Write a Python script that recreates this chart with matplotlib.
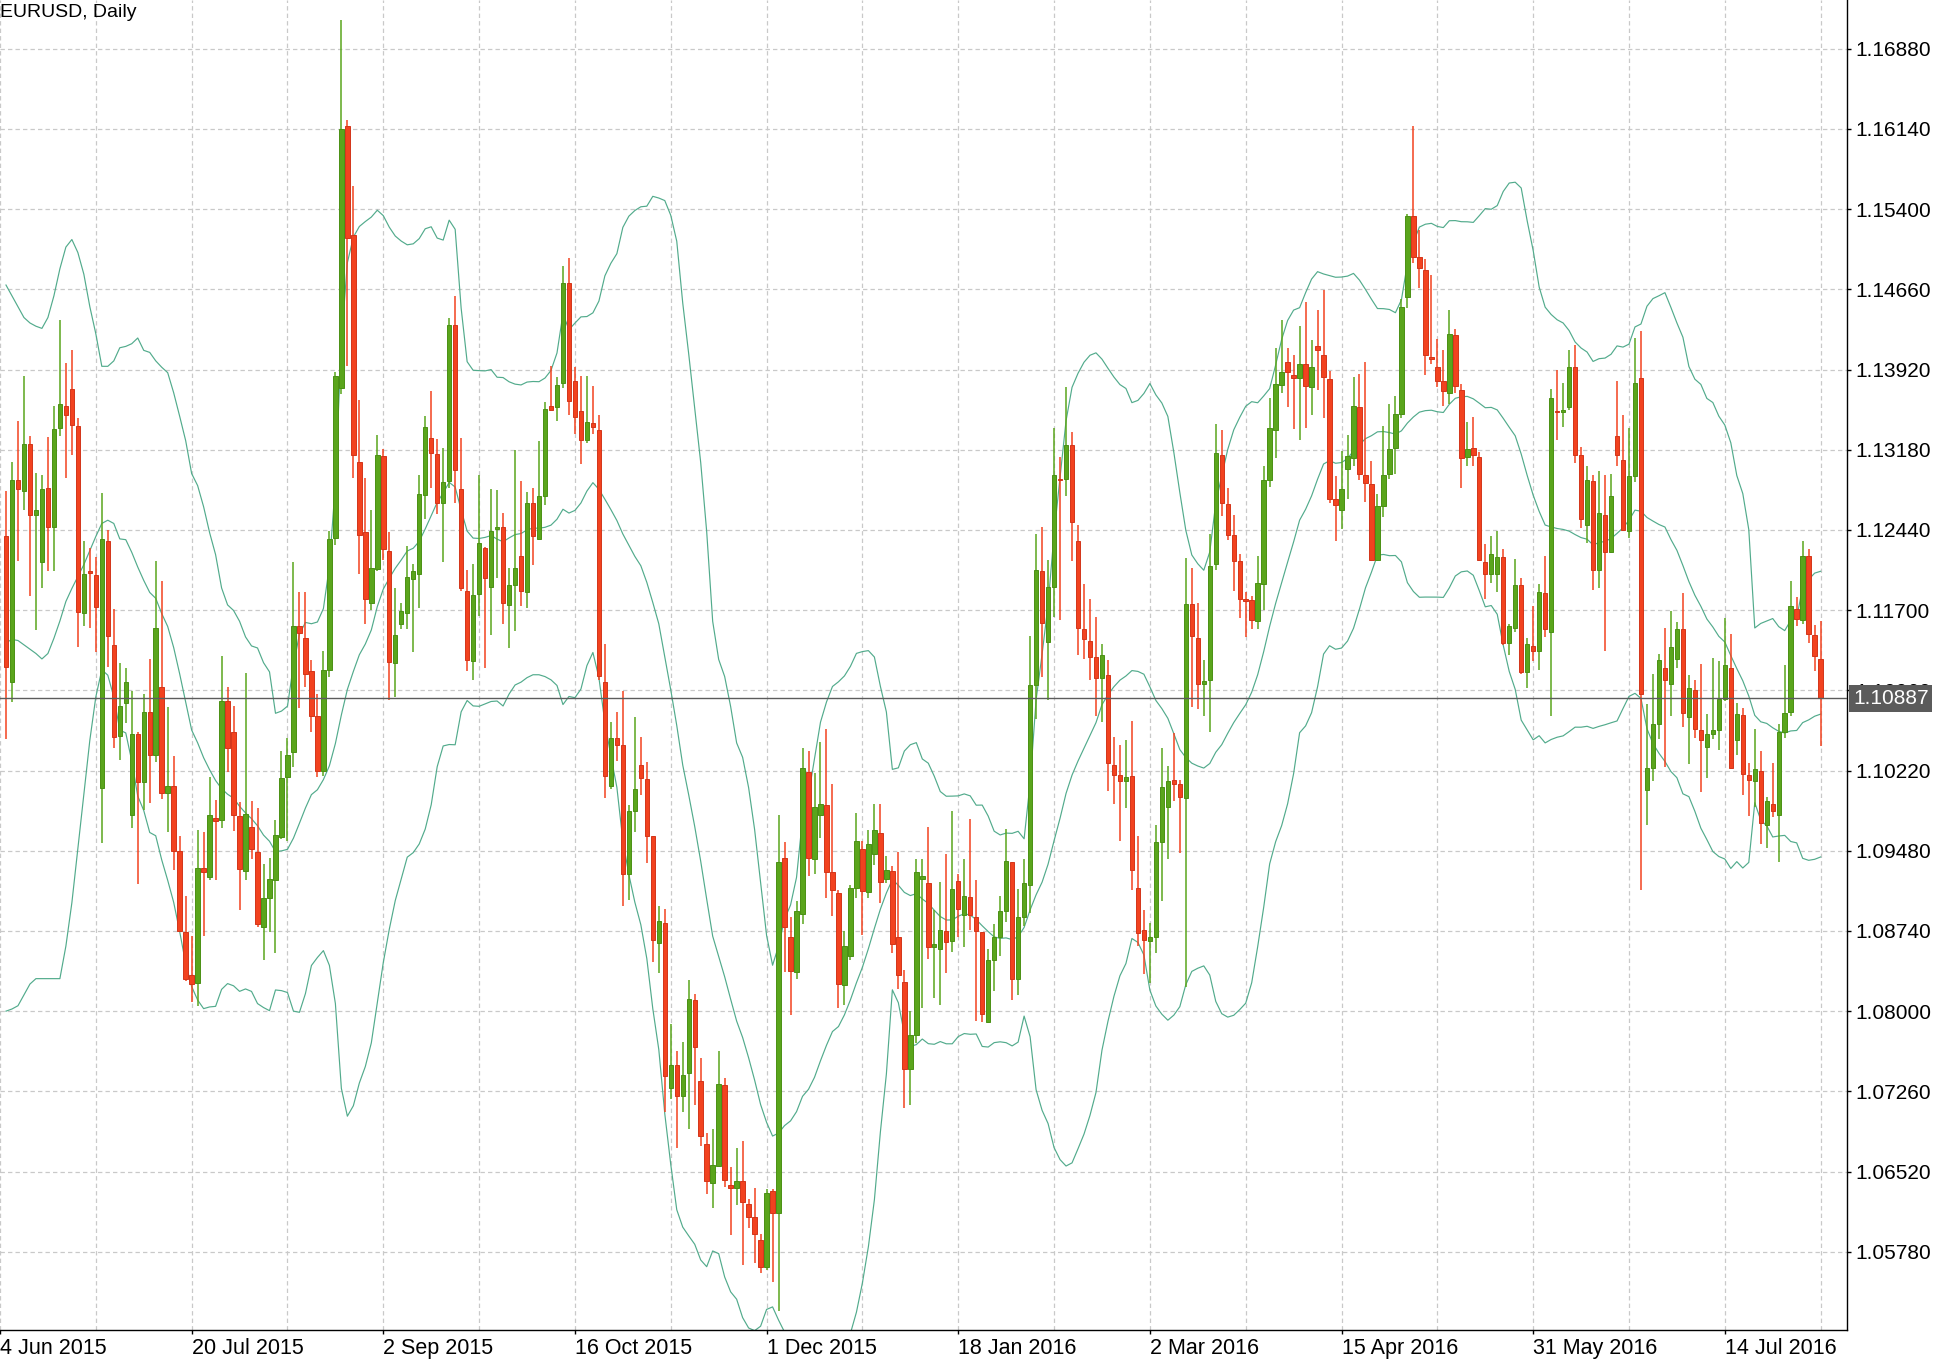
import matplotlib
matplotlib.use("Agg")
import matplotlib.pyplot as plt
import matplotlib.transforms as mtransforms
import numpy as np


# Bar index of the first candle in the lists below (bar 0 = 4 Jun 2015, just off the left edge)
FIRST_BAR = 1

OPENS = [
    1.1238, 1.1104, 1.1290, 1.1280, 1.1323, 1.1258, 1.1214, 1.1283, 1.1247, 1.1338,
    1.1358, 1.1374, 1.1340, 1.1167, 1.1206, 1.1202, 1.1006, 1.1234, 1.1138, 1.1054,
    1.1084, 1.0981, 1.1056, 1.1011, 1.1076, 1.1036, 1.1099, 1.1001, 1.1008, 1.0948,
    1.0873, 1.0833, 1.0826, 1.0932, 1.0924, 1.0978, 1.0976, 1.1086, 1.1058, 1.0980,
    1.0929, 1.0970, 1.0947, 1.0878, 1.0904, 1.0921, 1.0961, 1.1016, 1.1039, 1.1155,
    1.1144, 1.1114, 1.1072, 1.1022, 1.1115, 1.1237, 1.1375, 1.1617, 1.1516, 1.1307,
    1.1242, 1.1177, 1.1208, 1.1312, 1.1225, 1.1121, 1.1157, 1.1167, 1.1199, 1.1203,
    1.1276, 1.1329, 1.1314, 1.1269, 1.1289, 1.1433, 1.1282, 1.1188, 1.1123, 1.1185,
    1.1227, 1.1191, 1.1245, 1.1247, 1.1175, 1.1193, 1.1220, 1.1187, 1.1269, 1.1236,
    1.1275, 1.1358, 1.1357, 1.1380, 1.1472, 1.1381, 1.1354, 1.1327, 1.1343, 1.1336,
    1.1104, 1.1008, 1.1052, 1.1046, 1.0927, 1.0985, 1.1027, 1.1014, 1.0962, 1.0863,
    1.0881, 1.0729, 1.0750, 1.0722, 1.0743, 1.0810, 1.0736, 1.0677, 1.0641, 1.0657,
    1.0732, 1.0640, 1.0637, 1.0643, 1.0622, 1.0610, 1.0589, 1.0564, 1.0634, 1.0614,
    1.0941, 1.0868, 1.0836, 1.0890, 1.1021, 1.0940, 1.0981, 1.0990, 1.0928, 1.0909,
    1.0824, 1.0851, 1.0914, 1.0950, 1.0910, 1.0945, 1.0964, 1.0922, 1.0929, 1.0868,
    1.0827, 1.0747, 1.0778, 1.0922, 1.0918, 1.0859, 1.0857, 1.0874, 1.0865, 1.0920,
    1.0889, 1.0905, 1.0887, 1.0873, 1.0790, 1.0847, 1.0868, 1.0892, 1.0938, 1.0830,
    1.0887, 1.0916, 1.1101, 1.1206, 1.1141, 1.1191, 1.1291, 1.1291, 1.1322, 1.1234,
    1.1153, 1.1142, 1.1127, 1.1107, 1.1110, 1.1027, 1.1018, 1.1012, 1.1017, 1.0914,
    1.0875, 1.0865, 1.0868, 1.0956, 1.0988, 1.1013, 1.1010, 1.0997, 1.1176, 1.1144,
    1.1102, 1.1106, 1.1213, 1.1313, 1.1268, 1.1239, 1.1215, 1.1180, 1.1179, 1.1160,
    1.1194, 1.1290, 1.1336, 1.1378, 1.1399, 1.1387, 1.1384, 1.1397, 1.1376, 1.1414,
    1.1405, 1.1383, 1.1273, 1.1262, 1.1300, 1.1310, 1.1357, 1.1295, 1.1286, 1.1216,
    1.1266, 1.1296, 1.1320, 1.1351, 1.1459, 1.1534, 1.1496, 1.1484, 1.1404, 1.1394,
    1.1381, 1.1370, 1.1424, 1.1373, 1.1311, 1.1320, 1.1311, 1.1214, 1.1203, 1.1203,
    1.1219, 1.1140, 1.1154, 1.1193, 1.1113, 1.1137, 1.1132, 1.1186, 1.1150, 1.1354,
    1.1353, 1.1357, 1.1394, 1.1313, 1.1249, 1.1289, 1.1207, 1.1258, 1.1224, 1.1331,
    1.1309, 1.1243, 1.1294, 1.1384, 1.1004, 1.1024, 1.1065, 1.1117, 1.1102, 1.1125,
    1.1153, 1.1071, 1.1096, 1.1059, 1.1044, 1.1056, 1.1059, 1.1088, 1.1117, 1.1050,
    1.1073, 1.1018, 1.1012, 1.1022, 1.0972, 1.0991, 1.0981, 1.1058, 1.1076, 1.1171,
    1.1161, 1.1220, 1.1147, 1.1125,
]

HIGHS = [
    1.1280, 1.1307, 1.1345, 1.1386, 1.1331, 1.1297, 1.1295, 1.1330, 1.1358, 1.1438,
    1.1398, 1.1410, 1.1347, 1.1234, 1.1227, 1.1219, 1.1278, 1.1244, 1.1171, 1.1121,
    1.1117, 1.1095, 1.1058, 1.1093, 1.1125, 1.1215, 1.1197, 1.1081, 1.1035, 1.0962,
    1.0906, 1.0869, 1.0967, 1.0965, 1.1016, 1.0995, 1.1128, 1.1099, 1.1082, 1.0993,
    1.1112, 1.0994, 1.0987, 1.0936, 1.0941, 1.0976, 1.1040, 1.1052, 1.1214, 1.1187,
    1.1187, 1.1124, 1.1093, 1.1132, 1.1243, 1.1390, 1.1715, 1.1622, 1.1561, 1.1364,
    1.1292, 1.1262, 1.1332, 1.1319, 1.1242, 1.1190, 1.1177, 1.1229, 1.1213, 1.1295,
    1.1349, 1.1372, 1.1328, 1.1320, 1.1440, 1.1460, 1.1329, 1.1207, 1.1213, 1.1295,
    1.1228, 1.1282, 1.1281, 1.1260, 1.1209, 1.1318, 1.1289, 1.1279, 1.1283, 1.1326,
    1.1362, 1.1395, 1.1385, 1.1488, 1.1495, 1.1394, 1.1386, 1.1386, 1.1377, 1.1350,
    1.1139, 1.1067, 1.1076, 1.1095, 1.0990, 1.1071, 1.1053, 1.1030, 1.0962, 1.0897,
    1.0894, 1.0788, 1.0763, 1.0772, 1.0829, 1.0816, 1.0757, 1.0688, 1.0691, 1.0763,
    1.0738, 1.0656, 1.0674, 1.0680, 1.0627, 1.0637, 1.0594, 1.0636, 1.0636, 1.0981,
    1.0956, 1.0887, 1.0902, 1.1043, 1.1040, 1.1020, 1.1048, 1.1060, 1.1010, 1.0912,
    1.0874, 1.0916, 1.0983, 1.0957, 1.0967, 1.0991, 1.0991, 1.0943, 1.0934, 1.0947,
    1.0838, 1.0800, 1.0940, 1.0940, 1.0970, 1.0893, 1.0919, 1.0945, 1.0985, 1.0927,
    1.0940, 1.0977, 1.0921, 1.0873, 1.0857, 1.0880, 1.0906, 1.0968, 1.0938, 1.0913,
    1.0940, 1.1146, 1.1240, 1.1247, 1.1216, 1.1338, 1.1311, 1.1376, 1.1334, 1.1249,
    1.1194, 1.1180, 1.1164, 1.1139, 1.1124, 1.1053, 1.1046, 1.1050, 1.1068, 1.0962,
    1.0893, 1.0881, 1.0972, 1.1043, 1.1026, 1.1057, 1.1013, 1.1218, 1.1209, 1.1177,
    1.1124, 1.1240, 1.1342, 1.1336, 1.1283, 1.1258, 1.1222, 1.1187, 1.1183, 1.1220,
    1.1303, 1.1366, 1.1412, 1.1438, 1.1412, 1.1405, 1.1432, 1.1454, 1.1419, 1.1447,
    1.1465, 1.1391, 1.1294, 1.1317, 1.1332, 1.1385, 1.1388, 1.1399, 1.1308, 1.1277,
    1.1340, 1.1360, 1.1368, 1.1457, 1.1536, 1.1617, 1.1521, 1.1494, 1.1479, 1.1420,
    1.1410, 1.1447, 1.1429, 1.1379, 1.1344, 1.1348, 1.1316, 1.1231, 1.1238, 1.1243,
    1.1226, 1.1157, 1.1217, 1.1200, 1.1144, 1.1174, 1.1194, 1.1220, 1.1374, 1.1392,
    1.1380, 1.1410, 1.1415, 1.1321, 1.1303, 1.1295, 1.1298, 1.1295, 1.1296, 1.1381,
    1.1350, 1.1338, 1.1421, 1.1428, 1.1083, 1.1111, 1.1130, 1.1154, 1.1169, 1.1159,
    1.1186, 1.1110, 1.1106, 1.1120, 1.1074, 1.1126, 1.1123, 1.1163, 1.1148, 1.1084,
    1.1080, 1.1029, 1.1060, 1.1040, 1.0998, 1.1029, 1.1065, 1.1119, 1.1197, 1.1182,
    1.1234, 1.1226, 1.1156, 1.1160,
]

LOWS = [
    1.1051, 1.1085, 1.1215, 1.1262, 1.1183, 1.1152, 1.1190, 1.1206, 1.1206, 1.1331,
    1.1292, 1.1313, 1.1136, 1.1155, 1.1154, 1.1131, 1.0955, 1.1118, 1.1043, 1.1032,
    1.1066, 1.0969, 1.0917, 1.0986, 1.0992, 1.1030, 1.0996, 1.0965, 1.0930, 1.0873,
    1.0828, 1.0808, 1.0805, 1.0869, 1.0921, 1.0921, 1.0969, 1.1021, 1.0966, 1.0893,
    1.0921, 1.0940, 1.0878, 1.0847, 1.0873, 1.0854, 1.0959, 1.0957, 1.1025, 1.1080,
    1.1099, 1.1058, 1.1016, 1.1017, 1.1108, 1.1230, 1.1369, 1.1395, 1.1292, 1.1203,
    1.1157, 1.1170, 1.1206, 1.1216, 1.1087, 1.1090, 1.1153, 1.1153, 1.1131, 1.1172,
    1.1254, 1.1283, 1.1259, 1.1214, 1.1283, 1.1269, 1.1188, 1.1114, 1.1106, 1.1165,
    1.1117, 1.1147, 1.1200, 1.1157, 1.1135, 1.1151, 1.1174, 1.1172, 1.1212, 1.1235,
    1.1267, 1.1355, 1.1345, 1.1375, 1.1350, 1.1333, 1.1305, 1.1324, 1.1333, 1.1106,
    1.0997, 1.1005, 1.1031, 1.0897, 1.0903, 1.0965, 1.0999, 1.0937, 1.0845, 1.0835,
    1.0707, 1.0719, 1.0674, 1.0707, 1.0691, 1.0713, 1.0676, 1.0631, 1.0618, 1.0656,
    1.0638, 1.0593, 1.0621, 1.0566, 1.0600, 1.0568, 1.0558, 1.0561, 1.0550, 1.0523,
    1.0836, 1.0796, 1.0830, 1.0880, 1.0925, 1.0927, 1.0960, 1.0904, 1.0888, 1.0803,
    1.0806, 1.0847, 1.0904, 1.0870, 1.0904, 1.0935, 1.0900, 1.0918, 1.0854, 1.0820,
    1.0711, 1.0713, 1.0771, 1.0803, 1.0848, 1.0812, 1.0806, 1.0835, 1.0855, 1.0868,
    1.0859, 1.0875, 1.0791, 1.0790, 1.0789, 1.0819, 1.0851, 1.0882, 1.0810, 1.0815,
    1.0879, 1.0891, 1.1070, 1.1108, 1.1087, 1.1164, 1.1161, 1.1275, 1.1215, 1.1129,
    1.1125, 1.1106, 1.1072, 1.1067, 1.1003, 1.0991, 1.0957, 1.0987, 1.0912, 1.0860,
    1.0834, 1.0826, 1.0854, 1.0902, 1.0940, 1.0994, 1.0946, 1.0822, 1.1081, 1.1079,
    1.1072, 1.1058, 1.1207, 1.1257, 1.1235, 1.1188, 1.1163, 1.1145, 1.1153, 1.1153,
    1.1170, 1.1284, 1.1310, 1.1370, 1.1357, 1.1337, 1.1327, 1.1338, 1.1350, 1.1373,
    1.1347, 1.1269, 1.1234, 1.1245, 1.1273, 1.1303, 1.1290, 1.1270, 1.1215, 1.1215,
    1.1256, 1.1291, 1.1296, 1.1347, 1.1449, 1.1490, 1.1467, 1.1387, 1.1397, 1.1376,
    1.1358, 1.1360, 1.1370, 1.1283, 1.1303, 1.1303, 1.1215, 1.1180, 1.1195, 1.1187,
    1.1138, 1.1129, 1.1150, 1.1111, 1.1098, 1.1123, 1.1115, 1.1145, 1.1072, 1.1327,
    1.1339, 1.1355, 1.1306, 1.1246, 1.1232, 1.1189, 1.1190, 1.1132, 1.1223, 1.1303,
    1.1243, 1.1237, 1.1288, 1.0912, 1.0972, 1.1012, 1.1051, 1.1025, 1.1072, 1.1117,
    1.1062, 1.1028, 1.1052, 1.1002, 1.1015, 1.1051, 1.1041, 1.1086, 1.1023, 1.1036,
    1.0999, 1.0980, 1.0988, 1.0954, 1.0951, 1.0979, 1.0938, 1.1052, 1.1072, 1.1155,
    1.1157, 1.1140, 1.1114, 1.1045,
]

CLOSES = [
    1.1118, 1.1290, 1.1282, 1.1323, 1.1258, 1.1262, 1.1282, 1.1247, 1.1337, 1.1360,
    1.1350, 1.1341, 1.1168, 1.1203, 1.1204, 1.1173, 1.1236, 1.1146, 1.1053, 1.1082,
    1.1104, 1.1056, 1.1011, 1.1076, 1.1036, 1.1154, 1.1001, 1.1008, 1.0948, 1.0874,
    1.0830, 1.0825, 1.0932, 1.0928, 1.0981, 1.0975, 1.1086, 1.1043, 1.0981, 1.0931,
    1.0982, 1.0950, 1.0880, 1.0904, 1.0922, 1.0963, 1.1015, 1.1036, 1.1155, 1.1149,
    1.1111, 1.1072, 1.1022, 1.1115, 1.1236, 1.1386, 1.1614, 1.1513, 1.1313, 1.1239,
    1.1180, 1.1209, 1.1313, 1.1226, 1.1122, 1.1147, 1.1169, 1.1201, 1.1206, 1.1277,
    1.1339, 1.1315, 1.1269, 1.1288, 1.1433, 1.1299, 1.1190, 1.1124, 1.1184, 1.1232,
    1.1200, 1.1243, 1.1247, 1.1177, 1.1193, 1.1209, 1.1188, 1.1269, 1.1238, 1.1275,
    1.1356, 1.1355, 1.1378, 1.1472, 1.1363, 1.1348, 1.1327, 1.1344, 1.1339, 1.1109,
    1.1017, 1.1052, 1.1046, 1.0927, 1.0985, 1.1005, 1.1015, 1.0962, 1.0866, 1.0883,
    1.0740, 1.0750, 1.0722, 1.0741, 1.0811, 1.0767, 1.0685, 1.0643, 1.0658, 1.0733,
    1.0644, 1.0637, 1.0643, 1.0624, 1.0610, 1.0594, 1.0564, 1.0632, 1.0614, 1.0938,
    1.0878, 1.0837, 1.0892, 1.1024, 1.0941, 1.0988, 1.0991, 1.0928, 1.0912, 1.0825,
    1.0860, 1.0914, 1.0957, 1.0911, 1.0954, 1.0967, 1.0919, 1.0930, 1.0862, 1.0833,
    1.0747, 1.0778, 1.0928, 1.0925, 1.0859, 1.0862, 1.0875, 1.0864, 1.0913, 1.0894,
    1.0906, 1.0889, 1.0874, 1.0797, 1.0847, 1.0868, 1.0892, 1.0939, 1.0830, 1.0887,
    1.0918, 1.1101, 1.1207, 1.1158, 1.1191, 1.1295, 1.1290, 1.1322, 1.1251, 1.1154,
    1.1143, 1.1127, 1.1107, 1.1129, 1.1029, 1.1018, 1.1012, 1.1016, 1.0930, 1.0872,
    1.0866, 1.0868, 1.0956, 1.1007, 1.1012, 1.1010, 1.0998, 1.1176, 1.1146, 1.1102,
    1.1105, 1.1211, 1.1315, 1.1269, 1.1239, 1.1215, 1.1180, 1.1178, 1.1161, 1.1195,
    1.1290, 1.1338, 1.1379, 1.1390, 1.1390, 1.1384, 1.1397, 1.1377, 1.1394, 1.1410,
    1.1385, 1.1273, 1.1267, 1.1282, 1.1312, 1.1358, 1.1296, 1.1287, 1.1216, 1.1266,
    1.1295, 1.1319, 1.1351, 1.1450, 1.1534, 1.1496, 1.1486, 1.1405, 1.1402, 1.1381,
    1.1372, 1.1425, 1.1377, 1.1310, 1.1319, 1.1313, 1.1216, 1.1203, 1.1222, 1.1219,
    1.1140, 1.1155, 1.1193, 1.1113, 1.1139, 1.1132, 1.1187, 1.1153, 1.1366, 1.1353,
    1.1355, 1.1394, 1.1313, 1.1254, 1.1290, 1.1207, 1.1260, 1.1224, 1.1275, 1.1313,
    1.1244, 1.1294, 1.1380, 1.1093, 1.1024, 1.1065, 1.1124, 1.1106, 1.1136, 1.1153,
    1.1075, 1.1098, 1.1060, 1.1050, 1.1056, 1.1059, 1.1088, 1.1119, 1.1024, 1.1074,
    1.1019, 1.1013, 1.1023, 1.0974, 1.0994, 1.0985, 1.1058, 1.1075, 1.1174, 1.1162,
    1.1220, 1.1148, 1.1128, 1.10887,
]

# Bollinger band values for the first 19 candles
# (their 20-day window reaches back before the first visible candle)
BB_UPPER_HEAD = [
    1.1470, 1.1460, 1.1450, 1.1440, 1.1435, 1.1432, 1.1430, 1.1440, 1.1460, 1.1485,
    1.1505, 1.1512, 1.1500, 1.1480, 1.1450, 1.1425, 1.1395, 1.1395, 1.1400,
]
BB_MID_HEAD = [
    1.1140, 1.1143, 1.1142, 1.1138, 1.1134, 1.1130, 1.1125, 1.1130, 1.1144, 1.1160,
    1.1178, 1.1190, 1.1201, 1.1212, 1.1225, 1.1238, 1.1250, 1.1253, 1.1250,
]
BB_LOWER_HEAD = [
    1.0800, 1.0802, 1.0805, 1.0815, 1.0825, 1.0830, 1.0830, 1.0830, 1.0830, 1.0830,
    1.0860, 1.0900, 1.0950, 1.1000, 1.1050, 1.1090, 1.1115, 1.1110, 1.1090,
]

DATE_LABELS = [
    "4 Jun 2015", "20 Jul 2015", "2 Sep 2015", "16 Oct 2015", "1 Dec 2015",
    "18 Jan 2016", "2 Mar 2016", "15 Apr 2016", "31 May 2016", "14 Jul 2016",
]
DATE_LABEL_BARS = [0, 32, 64, 96, 128, 160, 192, 224, 256, 288]

PRICE_TICKS = [
    1.05780, 1.06520, 1.07260, 1.08000, 1.08740, 1.09480, 1.10220, 1.10960,
    1.11700, 1.12440, 1.13180, 1.13920, 1.14660, 1.15400, 1.16140, 1.16880,
]
LAST_PRICE = 1.10887

BULL = "#5aa51c"
BULL_EDGE = "#4a9114"
BEAR = "#f2421f"
BEAR_EDGE = "#d3351a"
BAND = "#52ab8c"
GRID = "#c9c9c9"
FONT = ["Liberation Sans", "DejaVu Sans"]


def bollinger(closes, period=20, width=2.0):
    closes = np.asarray(closes, dtype=float)
    n = len(closes)
    mid = np.full(n, np.nan)
    upper = np.full(n, np.nan)
    lower = np.full(n, np.nan)
    for i in range(period - 1, n):
        window = closes[i - period + 1:i + 1]
        mid[i] = window.mean()
        sd = window.std()
        upper[i] = mid[i] + width * sd
        lower[i] = mid[i] - width * sd
    head = period - 1
    upper[:head] = BB_UPPER_HEAD
    mid[:head] = BB_MID_HEAD
    lower[:head] = BB_LOWER_HEAD
    return upper, mid, lower


def draw_candles(ax, x, opens, highs, lows, closes):
    up = closes >= opens
    face = np.where(up, BULL, BEAR)
    edge = np.where(up, BULL_EDGE, BEAR_EDGE)
    ax.vlines(x, lows, highs, colors=face, linewidth=1.1, zorder=3)
    ax.bar(
        x,
        np.abs(closes - opens),
        bottom=np.minimum(opens, closes),
        width=0.74,
        color=face,
        edgecolor=edge,
        linewidth=0.7,
        zorder=4,
    )


def main():
    plt.rcParams["font.family"] = FONT

    opens = np.array(OPENS)
    highs = np.array(HIGHS)
    lows = np.array(LOWS)
    closes = np.array(CLOSES)
    x = np.arange(FIRST_BAR, FIRST_BAR + len(closes))

    fig = plt.figure(figsize=(19.44, 13.65), dpi=100)
    ax = fig.add_axes([0.0, 35 / 1365, 1847 / 1944, 1330 / 1365])

    for bar in range(0, 309, 16):
        ax.axvline(bar, color=GRID, linewidth=0.9, dashes=(3.5, 2.5), zorder=1)
    for price in PRICE_TICKS:
        ax.axhline(price, color=GRID, linewidth=0.9, dashes=(3.5, 2.5), zorder=1)

    upper, mid, lower = bollinger(closes)
    for band in (upper, mid, lower):
        ax.plot(x, band, color=BAND, linewidth=0.85, zorder=2)

    draw_candles(ax, x, opens, highs, lows, closes)

    ax.axhline(LAST_PRICE, color="#5c5c5c", linewidth=1.0, zorder=5)

    ax.set_xlim(0.617, 308.4)
    ax.set_ylim(1.05058, 1.17330)

    for side in ("top", "left"):
        ax.spines[side].set_visible(False)
    for side in ("right", "bottom"):
        ax.spines[side].set_color("black")
        ax.spines[side].set_linewidth(1.0)

    ax.yaxis.tick_right()
    ax.set_yticks(PRICE_TICKS)
    ax.set_yticklabels([f"{p:.5f}" for p in PRICE_TICKS])
    ax.tick_params(axis="y", direction="out", length=3, width=1, pad=3, labelsize=15)

    ax.set_xticks(DATE_LABEL_BARS)
    ax.set_xticklabels(DATE_LABELS)
    for label in ax.get_xticklabels():
        label.set_horizontalalignment("left")
    ax.tick_params(axis="x", direction="out", length=3, width=1, pad=3, labelsize=15.5)

    price_tf = mtransforms.blended_transform_factory(ax.transAxes, ax.transData)
    ax.text(
        1.0 + 6 / 1847,
        LAST_PRICE,
        "1.10887",
        transform=price_tf,
        ha="left",
        va="center",
        color="white",
        fontsize=15,
        bbox=dict(boxstyle="square,pad=0.18", facecolor="#5b5b5b", edgecolor="none"),
        clip_on=False,
        zorder=10,
    )

    ax.text(0.0, 0.997, "EURUSD, Daily", transform=ax.transAxes,
            ha="left", va="top", fontsize=14, color="black", zorder=10)

    fig.savefig("out.png", dpi=100, facecolor="white")
    plt.close(fig)


if __name__ == "__main__":
    main()
